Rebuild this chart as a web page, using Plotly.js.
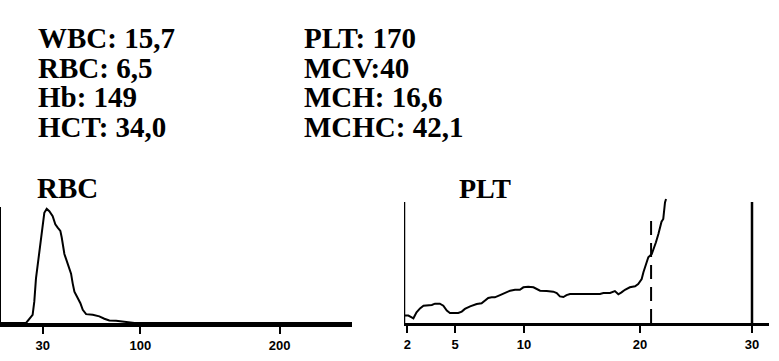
<!DOCTYPE html>
<html>
<head>
<meta charset="utf-8">
<script src="https://cdn.plot.ly/plotly-3.0.1.min.js"></script>
</head>
<body style="margin:0">
<div id="chart"></div>
<script>
// ---- Blood count values (text block) ----
const leftNames  = ['WBC', 'RBC', 'Hb', 'HCT'];
const leftValues = ['15,7', '6,5', '149', '34,0'];
const rightNames  = ['PLT', 'MCV', 'MCH', 'MCHC'];
const rightValues = ['170', '40', '16,6', '42,1'];
const rightSeparators = [': ', ':', ': ', ': '];

// ---- RBC histogram (x in fL, y relative count 0-100) ----
const rbcX = [0, 18.0, 22.7, 23.9, 25.1, 26.3, 28.3, 29.9, 31.1, 32.8, 34.7, 37.1, 39.0, 40.7, 42.6, 43.6,
              44.5, 45.5, 46.7, 49.1, 50.3, 51.5, 52.7, 54.6, 57.0, 58.7, 61.1, 65.9, 70.6, 74.2, 77.8,
              82.6, 87.4, 92.2, 95.8, 252];
const rbcY = [0, 0, 6.9, 18.0, 37.5, 48.6, 69.4, 86.1, 93.1, 96.4, 94.4, 90.3, 83.3, 80.6, 77.8, 72.2,
              65.3, 58.3, 54.2, 45.8, 41.7, 33.3, 26.4, 22.2, 16.7, 11.1, 7.5, 6.9, 5.6, 3.6, 2.2,
              1.9, 1.4, 0.6, 0, 0];
const rbcTickVals = [30, 100, 200];
const rbcTickText = ['30', '100', '200'];

// ---- PLT histogram (x in analyser channels, y relative count) ----
const pltX = [0.1, 1.25, 2.2, 2.7, 3.6, 4.6, 5.6, 7.0, 8.0, 8.9, 10.3, 11.3, 12.3, 13.2, 14.7, 15.6, 16.6,
              17.5, 19.0, 19.9, 20.9, 22.3, 23.3, 24.2, 25.2, 26.1, 27.6, 29.0, 30.5, 31.9, 33.3, 34.3,
              35.7, 37.2, 38.1, 39.1, 41.0, 42.9, 43.9, 44.8, 45.8, 46.7, 47.7, 49.6, 53.4, 56.3, 57.3,
              59.2, 60.6, 61.6, 62.5, 63.5, 64.9, 66.4, 67.3, 68.3, 68.8, 69.3, 69.7, 70.2, 71.2, 71.8,
              72.4, 73.1, 73.6, 74.0, 74.5, 74.7, 75.0, 75.3];
const pltY = [6.1, 6.1, 4.7, 3.9, 8.8, 12.1, 14.3, 14.9, 14.9, 16.0, 16.0, 14.3, 10.2, 8.3, 8.0, 8.3, 9.4,
              11.6, 13.8, 14.9, 15.7, 16.3, 18.5, 20.7, 21.2, 21.2, 23.1, 24.8, 26.7, 27.5, 27.5, 29.5,
              30.0, 29.5, 28.1, 26.7, 26.4, 25.9, 24.8, 22.0, 21.5, 23.1, 24.0, 24.0, 24.0, 24.0, 24.8,
              24.8, 26.4, 23.7, 25.3, 27.5, 29.5, 30.3, 32.2, 36.4, 41.9, 46.0, 50.1, 54.3, 57.0, 61.2,
              66.7, 73.6, 79.1, 83.7, 86.0, 94.2, 99.7, 102.5];
const pltTickVals = [1, 14.7, 34.5, 67.8, 100];
const pltTickText = ['2', '5', '10', '20', '30'];
const pltDiscriminator = 71;      // dashed threshold channel
const pltDiscriminatorTop = 86;
const pltFrame = [0, 100];        // left / right frame channels
const pltFrameTop = 100;

const W = 779, H = 361;
const px = v => v / W;
const py = v => 1 - v / H;

const annotations = [];
leftNames.forEach((n, i) => annotations.push({
  xref: 'paper', yref: 'paper', x: px(36), y: py(38.5 + i * 29.5),
  xanchor: 'left', yanchor: 'middle', showarrow: false,
  text: '<b>' + n + ': ' + leftValues[i] + '</b>',
  font: { family: 'Liberation Serif', size: 29, color: '#000' }
}));
rightNames.forEach((n, i) => annotations.push({
  xref: 'paper', yref: 'paper', x: px(302), y: py(38.5 + i * 29.5),
  xanchor: 'left', yanchor: 'middle', showarrow: false,
  text: '<b>' + n + rightSeparators[i] + rightValues[i] + '</b>',
  font: { family: 'Liberation Serif', size: 29, color: '#000' }
}));
annotations.push({
  xref: 'paper', yref: 'paper', x: px(67), y: py(188), xanchor: 'center', yanchor: 'middle',
  showarrow: false, text: '<b>RBC</b>', font: { family: 'Liberation Serif', size: 29, color: '#000' }
});
annotations.push({
  xref: 'paper', yref: 'paper', x: px(485), y: py(188), xanchor: 'center', yanchor: 'middle',
  showarrow: false, text: '<b>PLT</b>', font: { family: 'Liberation Serif', size: 28, color: '#000' }
});

const lineStyle = { color: '#000', width: 2 };
const traces = [
  { x: rbcX, y: rbcY, xaxis: 'x', yaxis: 'y', mode: 'lines', line: lineStyle, hoverinfo: 'skip' },
  { x: pltX, y: pltY, xaxis: 'x2', yaxis: 'y2', mode: 'lines', line: lineStyle, hoverinfo: 'skip' },
  { x: [pltDiscriminator, pltDiscriminator], y: [0, pltDiscriminatorTop], xaxis: 'x2', yaxis: 'y2',
    mode: 'lines', line: { color: '#000', width: 2, dash: '14px,8px' }, hoverinfo: 'skip' },
  { x: [pltFrame[0], pltFrame[0]], y: [0, pltFrameTop], xaxis: 'x2', yaxis: 'y2',
    mode: 'lines', line: { color: '#000', width: 2.5 }, hoverinfo: 'skip' },
  { x: [pltFrame[1], pltFrame[1]], y: [0, pltFrameTop], xaxis: 'x2', yaxis: 'y2',
    mode: 'lines', line: { color: '#000', width: 2.5 }, hoverinfo: 'skip' }
];

const tickFont = { family: 'Liberation Sans', size: 13, color: '#000', weight: 'bold' };
const layout = {
  width: W, height: H,
  margin: { l: 0, r: 0, t: 0, b: 0, pad: 0 },
  paper_bgcolor: '#fff', plot_bgcolor: '#fff',
  showlegend: false,
  xaxis: {
    domain: [px(1), px(352)], range: [0, 252], anchor: 'y',
    showline: true, linecolor: '#000', linewidth: 4,
    showgrid: false, zeroline: false,
    tickmode: 'array', tickvals: rbcTickVals, ticktext: rbcTickText,
    ticks: 'outside', ticklen: 7, tickwidth: 2, tickcolor: '#000',
    tickfont: tickFont, automargin: false, fixedrange: true
  },
  yaxis: {
    domain: [py(323), py(207)], range: [0, 98], anchor: 'x',
    showline: true, linecolor: '#000', linewidth: 2,
    showgrid: false, zeroline: false, showticklabels: false, ticks: '',
    automargin: false, fixedrange: true
  },
  xaxis2: {
    domain: [px(404), px(769.4)], range: [0, 105], anchor: 'y2',
    showline: true, linecolor: '#000', linewidth: 3,
    showgrid: false, zeroline: false,
    tickmode: 'array', tickvals: pltTickVals, ticktext: pltTickText,
    ticks: 'outside', ticklen: 7, tickwidth: 2, tickcolor: '#000',
    tickfont: tickFont, automargin: false, fixedrange: true
  },
  yaxis2: {
    domain: [py(323), py(323 - 104 * 1.21)], range: [0, 104], anchor: 'x2',
    showline: false, showgrid: false, zeroline: false, showticklabels: false, ticks: '',
    automargin: false, fixedrange: true
  },
  annotations: annotations
};

Plotly.newPlot('chart', traces, layout, { staticPlot: true, displayModeBar: false });
</script>
</body>
</html>
